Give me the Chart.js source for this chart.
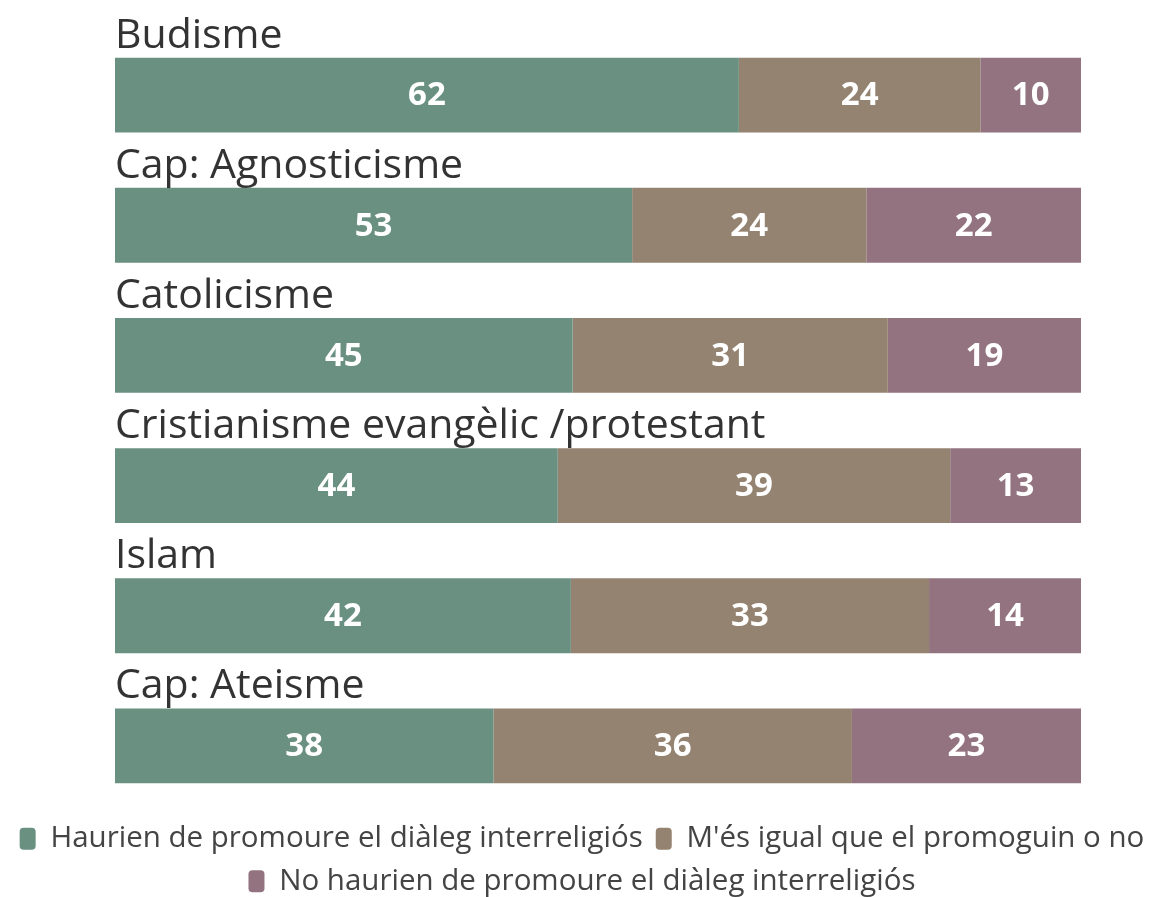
<!DOCTYPE html>
<html>
<head>
<meta charset="utf-8">
<script src="https://cdn.jsdelivr.net/npm/chart.js@4"></script>
<style>
  html, body { margin: 0; padding: 0; background: #fff; overflow: hidden; }
  #wrap { width: 1164px; height: 897px; position: relative; }
  canvas { display: block; }
</style>
</head>
<body>
<div id="wrap"><canvas id="chart"></canvas></div>
<script>
const categories = ['Budisme', 'Cap: Agnosticisme', 'Catolicisme', 'Cristianisme evangèlic /protestant', 'Islam', 'Cap: Ateisme'];
const promote = [62, 53, 45, 44, 42, 38];
const indifferent = [24, 24, 31, 39, 33, 36];
const notPromote = [10, 22, 19, 13, 14, 23];
const seriesNames = ['Haurien de promoure el diàleg interreligiós', "M'és igual que el promoguin o no", 'No haurien de promoure el diàleg interreligiós'];
const colors = ['#6a9082', '#948370', '#92737f'];

// each row is scaled to 100% of its own total, labels keep the raw values
const totals = categories.map((c, i) => promote[i] + indifferent[i] + notPromote[i]);
const share = arr => arr.map((v, i) => v / totals[i] * 100);
const raw = [promote, indifferent, notPromote];

const rowLabels = {
  id: 'rowLabels',
  afterDatasetsDraw(chart) {
    const ctx = chart.ctx;
    const meta = chart.getDatasetMeta(0);
    ctx.save();
    // category name above every bar
    ctx.font = '41px "Open Sans", sans-serif';
    ctx.fillStyle = '#333';
    ctx.textAlign = 'left';
    ctx.textBaseline = 'alphabetic';
    meta.data.forEach((bar, i) => {
      const top = bar.y - bar.height / 2;
      ctx.fillText(categories[i], chart.chartArea.left, top - 10);
    });
    // values in the middle of each segment
    ctx.font = 'bold 33px "Open Sans", sans-serif';
    ctx.fillStyle = '#fff';
    ctx.textAlign = 'center';
    ctx.textBaseline = 'middle';
    chart.data.datasets.forEach((ds, d) => {
      chart.getDatasetMeta(d).data.forEach((bar, i) => {
        ctx.fillText(raw[d][i], (bar.base + bar.x) / 2, bar.y + 1);
      });
    });
    ctx.restore();
  }
};

// empty side axes that only reserve room around the bars
const spacer = (pos, w) => ({
  position: pos,
  display: true,
  grid: { display: false },
  border: { display: false },
  ticks: { display: false },
  afterFit(scale) { scale.width = w; }
});

new Chart(document.getElementById('chart'), {
  type: 'bar',
  data: {
    labels: categories,
    datasets: [
      { label: seriesNames[0], data: share(promote), backgroundColor: colors[0] },
      { label: seriesNames[1], data: share(indifferent), backgroundColor: colors[1] },
      { label: seriesNames[2], data: share(notPromote), backgroundColor: colors[2] }
    ]
  },
  options: {
    indexAxis: 'y',
    responsive: true,
    maintainAspectRatio: false,
    animation: false,
    barPercentage: 0.575,
    categoryPercentage: 1,
    layout: { padding: { top: 30, left: 0, right: 0, bottom: -9 } },
    scales: {
      x: { stacked: true, min: 0, max: 100, display: false },
      y: Object.assign({ stacked: true }, spacer('left', 115)),
      y2: spacer('right', 83)
    },
    plugins: {
      tooltip: { enabled: false },
      legend: {
        position: 'bottom',
        labels: {
          font: { family: '"Open Sans", sans-serif', size: 29.5 },
          color: '#444',
          boxWidth: 16,
          boxHeight: 22,
          useBorderRadius: true,
          borderRadius: 4,
          padding: 13
        }
      }
    }
  },
  plugins: [rowLabels]
});
</script>
</body>
</html>
